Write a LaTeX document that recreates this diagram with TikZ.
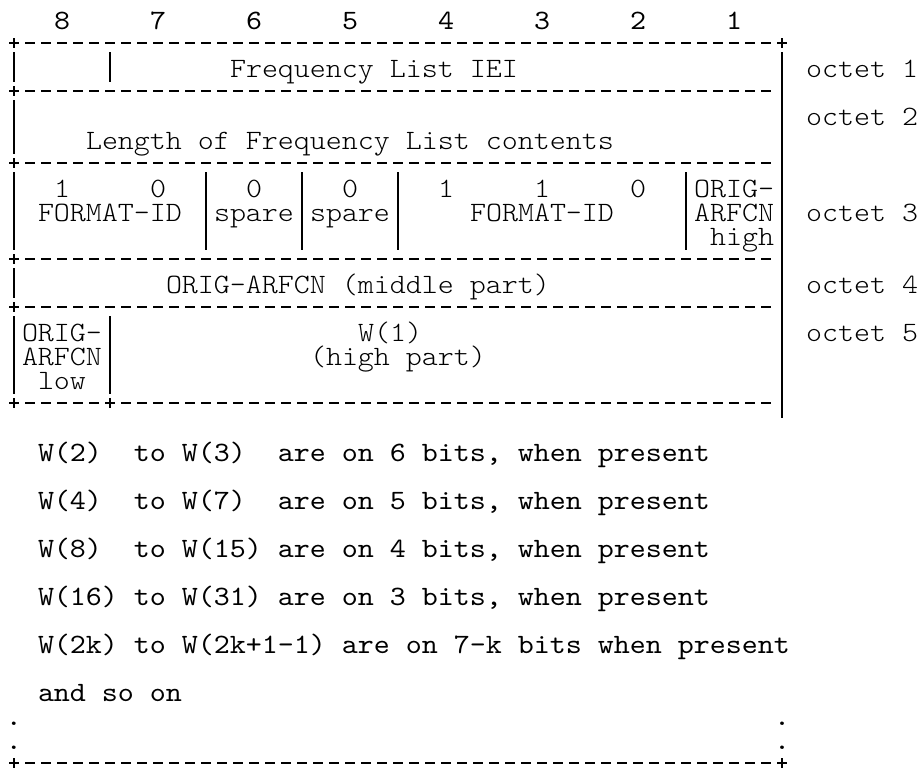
\documentclass[tikz,border=0pt]{standalone}
\usepackage{fontspec}
\newfontfamily\thinmono{lmmonolt10-regular.otf}[FakeStretch=1.0884]
\newfontfamily\regmono{lmmono10-regular.otf}[FakeStretch=1.0884]
\tikzset{
  lt/.style={font=\thinmono\fontsize{21pt}{21pt}\selectfont, anchor=base west, inner sep=0pt, outer sep=0pt},
  rg/.style={font=\regmono\fontsize{21pt}{21pt}\selectfont, anchor=base west, inner sep=0pt, outer sep=0pt},
  rulebox/.style={line width=0.9pt, dash pattern=on 7.5pt off 4.5pt, dash phase=3.75pt},
  rulebold/.style={line width=1.3pt, dash pattern=on 7.5pt off 4.5pt, dash phase=3.75pt},
  barline/.style={line width=0.9pt},
  pics/crossmark/.style={code={\draw[line width=#1] (-5,0)--(5,0) (0,-5)--(0,5);}},
  pics/crossmark/.default=0.9pt,
}
\begin{document}
\begin{tikzpicture}[x=0.75pt,y=-0.75pt]
\useasboundingbox (0,0) rectangle (922,771);

% ---- junctions of the rules ----
\coordinate (a1) at (14,43);   \coordinate (b1) at (782,43);
\coordinate (a3) at (14,91);   \coordinate (b3) at (771,91);
\coordinate (a6) at (14,163);  \coordinate (b6) at (771,163);
\coordinate (a10) at (14,259); \coordinate (b10) at (771,259);
\coordinate (a12) at (14,307); \coordinate (b12) at (771,307);
\coordinate (a16) at (14,403); \coordinate (m16) at (110,403); \coordinate (b16) at (771,403);
\coordinate (a31) at (14,763); \coordinate (b31) at (782,763);

% ---- horizontal rules ----
\draw[rulebox] (a1) -- (b1);
\draw[rulebox] (a3) -- (b3);
\draw[rulebox] (a6) -- (b6);
\draw[rulebox] (a10) -- (b10);
\draw[rulebox] (a12) -- (b12);
\draw[rulebox] (a16) -- (b16);
\draw[rulebold] (a31) -- (b31);
\foreach \p in {a1,b1,a3,a6,a10,a12,a16,m16} \pic at (\p) {crossmark};
\pic at (a31) {crossmark=1.3pt};
\pic at (b31) {crossmark=1.3pt};

% ---- vertical bars ----
\draw[barline] (14,52) -- (14,82)   (14,100) -- (14,154)  (14,172) -- (14,250)
               (14,268) -- (14,298) (14,316) -- (14,394);
\draw[barline] (110,52) -- (110,82) (110,316) -- (110,394);
\draw[barline] (206,172) -- (206,250) (302,172) -- (302,250)
               (398,172) -- (398,250) (686,172) -- (686,250);
\draw[barline] (782,52) -- (782,418);

% ---- bit numbers ----
\node[rg] (n8) at (54,29) {8};
\node[rg] (n7) at (150,29) {7};
\node[rg] (n6) at (246,29) {6};
\node[rg] (n5) at (342,29) {5};
\node[rg] (n4) at (438,29) {4};
\node[rg] (n3) at (534,29) {3};
\node[rg] (n2) at (630,29) {2};
\node[rg] (n1) at (726,29) {1};

% ---- octet 1 ----
\node[lt] (iei) at (230,77) {Frequency List IEI};
% ---- octet 2 ----
\node[lt] (len) at (86,149) {Length of Frequency List contents};
% ---- octet 3 ----
\node[lt] (b8) at (54,197) {1};
\node[lt] (b7) at (150,197) {0};
\node[lt] (b6) at (246,197) {0};
\node[lt] (b5) at (342,197) {0};
\node[lt] (b4) at (438,197) {1};
\node[lt] (b3) at (534,197) {1};
\node[lt] (b2) at (630,197) {0};
\node[lt] (oh1) at (694,197) {ORIG-};
\node[lt] (fid1) at (38,221) {FORMAT-ID};
\node[lt] (sp1) at (214,221) {spare};
\node[lt] (sp2) at (310,221) {spare};
\node[lt] (fid2) at (470,221) {FORMAT-ID};
\node[lt] (oh2) at (694,221) {ARFCN};
\node[lt] (oh3) at (710,245) {high};
% ---- octet 4 ----
\node[lt] (mid) at (166,293) {ORIG-ARFCN (middle part)};
% ---- octet 5 ----
\node[lt] (ol1) at (22,341) {ORIG-};
\node[lt] (ol2) at (22,365) {ARFCN};
\node[lt] (ol3) at (38,389) {low};
\node[lt] (w1a) at (358,341) {W(1)};
\node[lt] (w1b) at (310,365) {(high part)};

% ---- octet labels ----
\node[lt] (o1) at (806,77) {octet 1};
\node[lt] (o2) at (806,125) {octet 2};
\node[lt] (o3) at (806,221) {octet 3};
\node[lt] (o4) at (806,293) {octet 4};
\node[lt] (o5) at (806,341) {octet 5};

% ---- notes ----
\node[rg] (t1) at (38,461) {W(2)~ to W(3)~ are on 6 bits, when present};
\node[rg] (t2) at (38,509) {W(4)~ to W(7)~ are on 5 bits, when present};
\node[rg] (t3) at (38,557) {W(8)~ to W(15) are on 4 bits, when present};
\node[rg] (t4) at (38,605) {W(16) to W(31) are on 3 bits, when present};
\node[rg] (t5) at (38,653) {W(2k) to W(2k+1-1) are on 7-k bits when present};
\node[rg] (t6) at (38,701) {and so on};
\node[rg] (d1) at (6,725) {.};
\node[rg] (d2) at (774,725) {.};
\node[rg] (d3) at (6,749) {.};
\node[rg] (d4) at (774,749) {.};
\end{tikzpicture}
\end{document}
